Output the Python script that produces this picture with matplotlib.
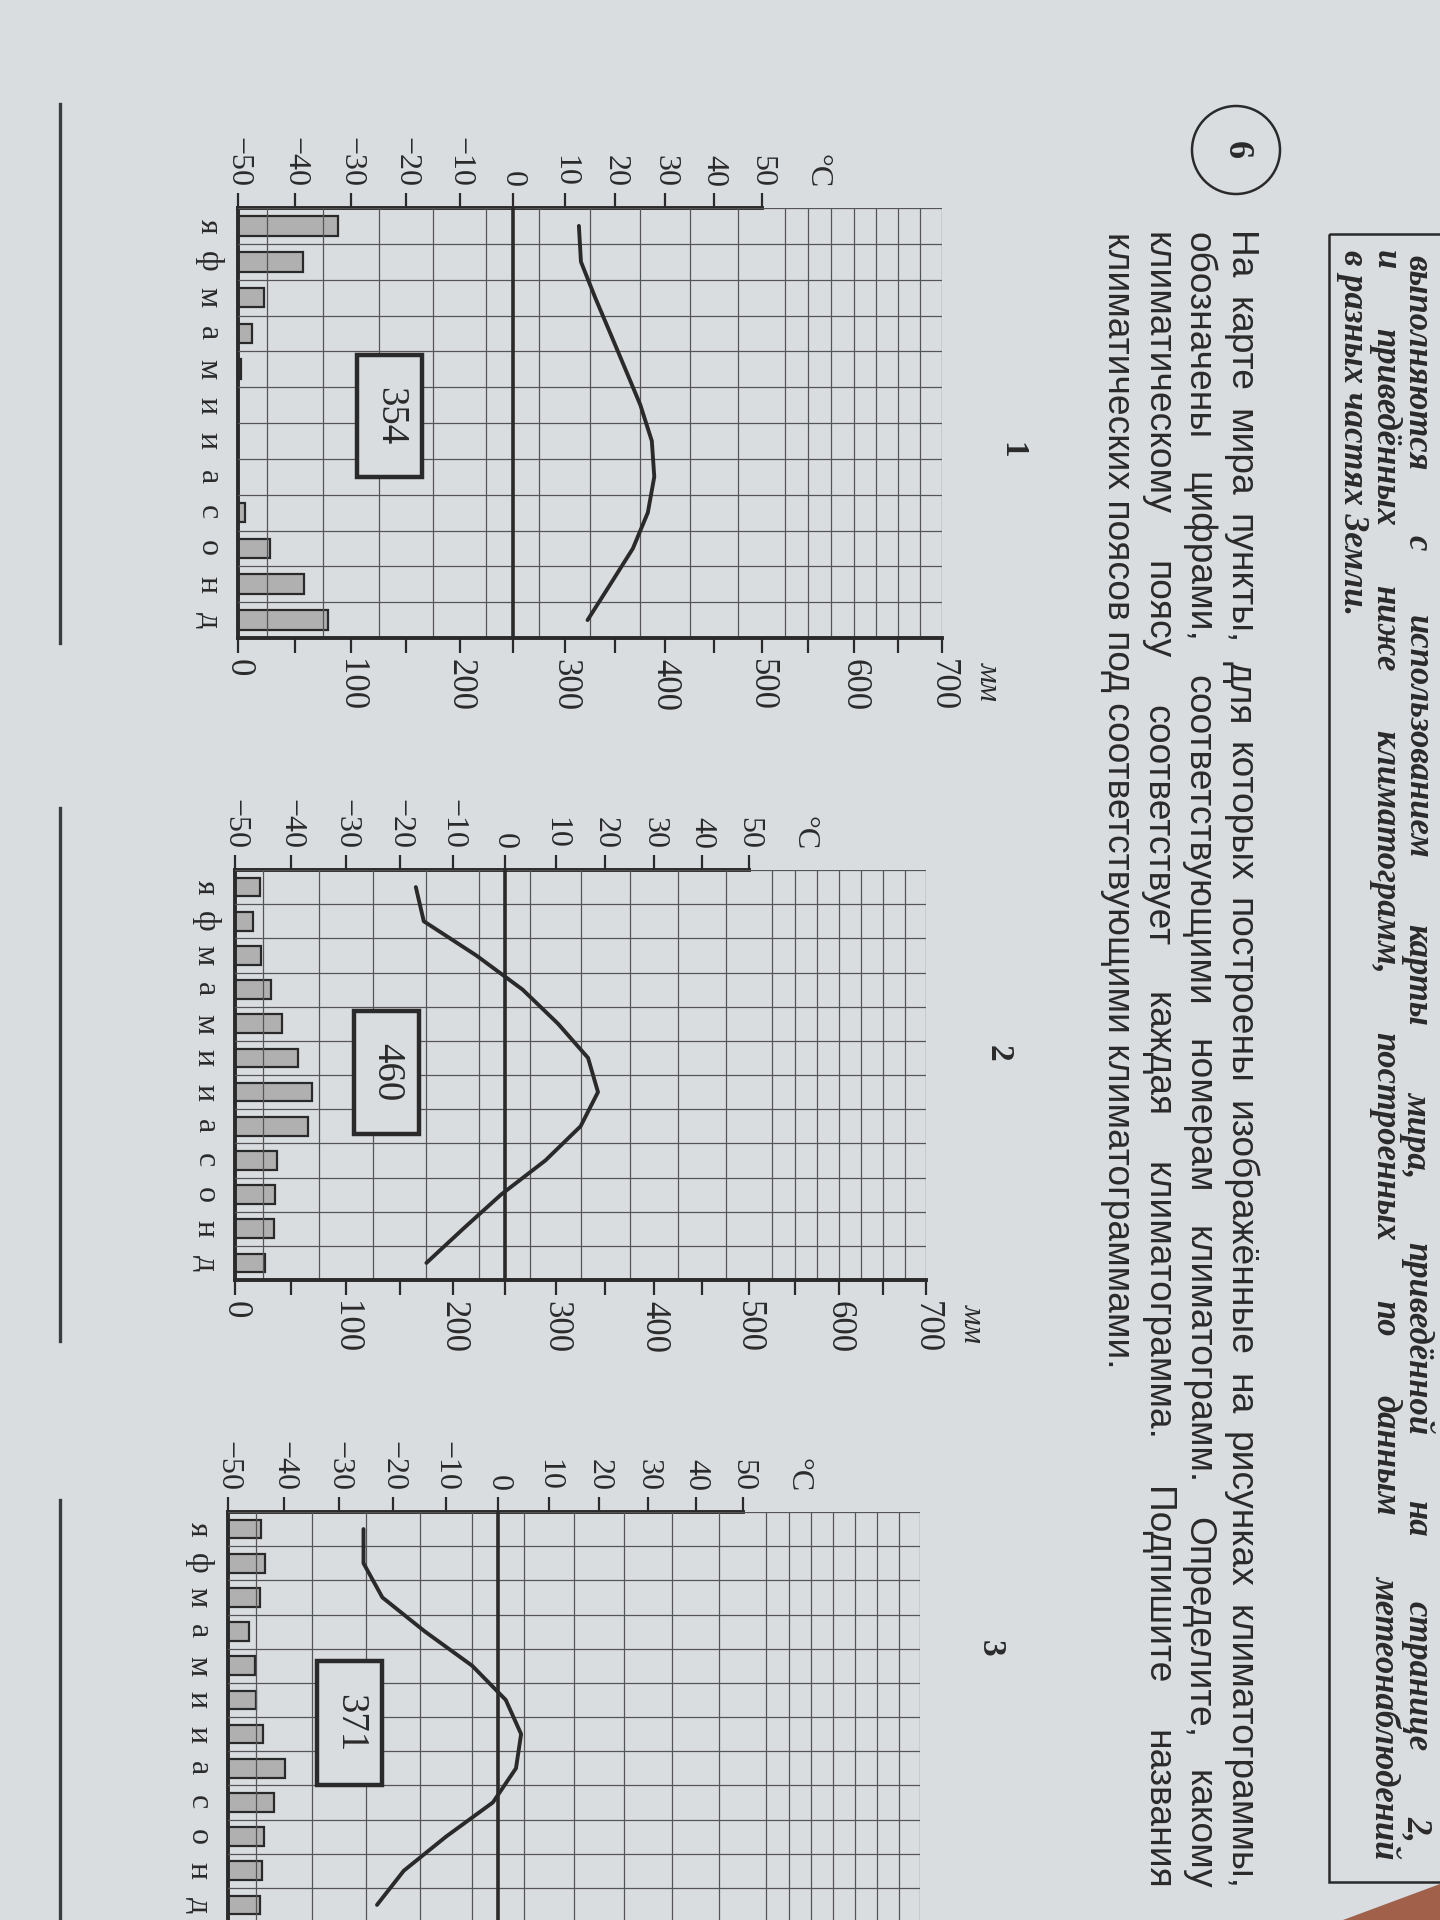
import numpy as np
import matplotlib
matplotlib.use("Agg")
import matplotlib.pyplot as plt
from matplotlib.patches import Rectangle, Circle, Polygon
from matplotlib.ticker import FixedLocator

# =============================================================================
# DONNEES DES TROIS CLIMATOGRAMMES (lues sur la photo)
# =============================================================================
mois = ["я", "ф", "м", "а", "м", "и", "и", "а", "с", "о", "н", "д"]

temp_1 = [12.8, 13.2, 16, 19, 22, 25, 27.3, 27.8, 26.5, 23.5, 19, 14.5]
precip_1 = [88, 57, 23, 12, 3, 0, 0, 0, 6, 28, 58, 79]
total_1 = "354"

temp_2 = [-17, -15.5, -5.5, 3.5, 10.5, 16.5, 18.5, 15, 8, -0.7, -8, -15]
precip_2 = [22, 16, 23, 32, 42, 56, 69, 65, 37, 36, 35, 27]
total_2 = "460"

temp_3 = [-25.5, -25.5, -22, -14, -5, 1.5, 4.5, 3.5, -1, -10, -18, -23]
precip_3 = [29, 33, 28, 19, 24, 25, 31, 51, 41, 32, 30, 28]
total_3 = "371"

graduations_temp = [-50, -40, -30, -20, -10, 0, 10, 20, 30, 40, 50]
graduations_precip = [0, 100, 200, 300, 400, 500, 600, 700]

titres = ["1", "2", "3"]

entete = [
    "выполняются с использованием карты мира, приведённой на странице 2,",
    "и приведённых ниже климатограмм, построенных по данным метеонаблюдений",
    "в разных частях Земли.",
]
consigne = [
    "На карте мира пункты, для которых построены изображённые на рисунках климатограммы,",
    "обозначены цифрами, соответствующими номерам климатограмм. Определите, какому",
    "климатическому поясу соответствует каждая климатограмма. Подпишите названия",
    "климатических поясов под соответствующими климатограммами.",
]

# =============================================================================
# MISE EN PAGE (pixels de l'image, page tournée de 90°)
# =============================================================================
W, H = 1440, 1920
PAPIER = "#dadde0"
ENCRE = "#2a2a2a"
GRILLE = "#555555"
BARRE = "#b0b0b0"
SERIF = ["Liberation Serif", "DejaVu Serif"]
SANS = ["Liberation Sans Narrow", "Liberation Sans", "DejaVu Sans"]

# (gauche, droite, haut, bas) de chaque grille
cadres = [(238, 942, 208, 638), (235, 926, 870, 1280), (228, 920, 1512, 1922)]
# cadre du total annuel : (T0, T1, mois0, mois1)
boites = [(-29, -17, 4.1, 7.5), (-28.5, -16.4, 4.13, 7.73), (-34, -22, 4.35, 8.0)]
pos_titres = [(1012, 450), (998, 1053), (990, 1648)]
traits_reponse = [(104, 643), (808, 1341), (1500, 1925)]

plt.rcParams["font.family"] = SERIF

# échelle légèrement non linéaire : la photo est prise en perspective
C = 0.0009


def avant(t):
    u = np.asarray(t, dtype=float) + 50
    return u - C * u * u


def arriere(y):
    y = np.asarray(y, dtype=float)
    return (1 - np.sqrt(np.clip(1 - 4 * C * y, 0, None))) / (2 * C) - 50


fig = plt.figure(figsize=(W / 100, H / 100), dpi=100)
fig.patch.set_facecolor(PAPIER)

page = fig.add_axes([0, 0, 1, 1])
page.set_xlim(0, W)
page.set_ylim(H, 0)
page.axis("off")
page.patch.set_alpha(0)


def climatogramme(cadre, temp, precip, total, boite):
    g, d, h, b = cadre
    ax = fig.add_axes([g / W, 1 - b / H, (d - g) / W, (b - h) / H])
    ax.patch.set_alpha(0)
    ax.set_xscale("function", functions=(avant, arriere))
    ax.set_xlim(-50, 90)
    ax.set_ylim(12, 0)

    # axe des précipitations (en bas)
    axp = ax.twiny()
    axp.set_xscale("function",
                   functions=(lambda p: avant(np.asarray(p) / 5 - 50),
                              lambda y: (arriere(y) + 50) * 5))
    axp.set_xlim(0, 700)
    axp.xaxis.set_ticks_position("bottom")
    axp.set_xticks(graduations_precip, labels=[str(p) for p in graduations_precip])
    axp.xaxis.set_minor_locator(FixedLocator(np.arange(50, 700, 100)))
    axp.tick_params(axis="x", which="both", direction="out", length=11, width=1.6,
                    pad=4, labelsize=25, labelrotation=270, colors=ENCRE)
    for s in ["top", "left", "right"]:
        axp.spines[s].set_visible(False)
    axp.spines["bottom"].set_linewidth(2.8)
    axp.spines["bottom"].set_color(ENCRE)
    axp.annotate("мм", xy=(700, 12), xytext=(46, -24), textcoords="offset pixels",
                 rotation=270, ha="center", va="top", fontsize=22, style="italic",
                 color=ENCRE, annotation_clip=False)

    # axe des températures (en haut)
    ax.xaxis.tick_top()
    ax.set_xticks(graduations_temp,
                  labels=[str(t).replace("-", "\u2212") for t in graduations_temp])
    ax.xaxis.set_minor_locator(FixedLocator(np.arange(-50, 91, 5)))
    ax.tick_params(axis="x", which="major", direction="out", length=11, width=1.6,
                   pad=4, labelsize=23, labelrotation=270, colors=ENCRE)
    ax.tick_params(axis="x", which="minor", length=0)
    ax.annotate("°C", xy=(62, 0), xytext=(0, 20), textcoords="offset pixels",
                rotation=270, ha="center", va="bottom", fontsize=23, color=ENCRE,
                annotation_clip=False)

    # mois
    centres = np.arange(12) + 0.5
    ax.set_yticks(centres, labels=mois)
    ax.yaxis.set_minor_locator(FixedLocator(np.arange(13)))
    ax.tick_params(axis="y", which="both", length=0, pad=11, labelsize=23,
                   labelrotation=270, colors=ENCRE)
    for lab in ax.get_yticklabels():
        lab.set_va("center")

    for s in ["bottom", "right"]:
        ax.spines[s].set_visible(False)
    ax.spines["top"].set_bounds(-50, 50)
    for s in ["top", "left"]:
        ax.spines[s].set_linewidth(2.8)
        ax.spines[s].set_color(ENCRE)

    ax.grid(True, which="minor", color=GRILLE, lw=0.9)
    ax.grid(False, which="major")
    ax.set_axisbelow(False)

    ax.barh(centres, np.asarray(precip) / 5, left=-50, height=0.55,
            color=BARRE, edgecolor=ENCRE, lw=1.6, zorder=1)
    ax.axvline(0, color=ENCRE, lw=2.6, zorder=2.6)
    ax.plot(temp, centres, color=ENCRE, lw=2.8, zorder=3,
            solid_capstyle="round", solid_joinstyle="round")

    t0, t1, m0, m1 = boite
    ax.add_patch(Rectangle((t0, m0), t1 - t0, m1 - m0, fc=PAPIER, ec=ENCRE,
                           lw=3.2, zorder=4))
    tc = float(arriere((avant(t0) + avant(t1)) / 2))
    ax.text(tc, (m0 + m1) / 2, total, rotation=270, ha="center", va="center",
            fontsize=28, color=ENCRE, zorder=5)
    return ax


climatogramme(cadres[0], temp_1, precip_1, total_1, boites[0])
climatogramme(cadres[1], temp_2, precip_2, total_2, boites[1])
climatogramme(cadres[2], temp_3, precip_3, total_3, boites[2])

for (x, y), t in zip(pos_titres, titres):
    page.text(x, y, t, rotation=270, ha="center", va="center", fontsize=24,
              fontweight="bold", color=ENCRE)

for y0, y1 in traits_reponse:
    page.plot([60, 60], [y0, y1], color="#3a3d40", lw=2.4)

# =============================================================================
# TEXTE DE LA PAGE
# =============================================================================
rendu = fig.canvas.get_renderer()


def ligne(texte, x, y0, y1=None, **style):
    if y1 is None:
        return page.text(x, y0, texte, rotation=270, ha="center", va="top", **style)
    mots = texte.split()
    arts = [page.text(x, y0, m, rotation=270, ha="center", va="top", **style)
            for m in mots]
    longueurs = [a.get_window_extent(rendu).height for a in arts]
    ecart = (y1 - y0 - sum(longueurs)) / (len(mots) - 1)
    y = y0
    for a, l in zip(arts, longueurs):
        a.set_y(y)
        y += l + ecart


def taille_pour(texte, longueur, **style):
    t = page.text(0, 0, texte, rotation=270, fontsize=20, **style)
    l = t.get_window_extent(rendu).height
    t.remove()
    return 20 * longueur / l


style_ent = dict(family=SERIF, style="italic", fontweight="bold", color=ENCRE)
style_ent["fontsize"] = taille_pour(entete[2], 365, **style_ent)
ligne(entete[0], 1417, 255, 1842, **style_ent)
ligne(entete[1], 1385, 250, 1858, **style_ent)
ligne(entete[2], 1352, 250, **style_ent)
page.add_patch(Rectangle((1329, 234), 200, 1648, fill=False, ec=ENCRE, lw=1.8))

style_txt = dict(family=SANS, color=ENCRE)
style_txt["fontsize"] = taille_pour(consigne[3], 1130, **style_txt)
for i, (x, txt) in enumerate(zip([1239, 1198, 1157, 1117], consigne)):
    ligne(txt, x, 232, 1890 if i < 3 else None, **style_txt)

page.add_patch(Circle((1236, 150), 44, fill=False, ec=ENCRE, lw=1.8))
page.text(1236, 150, "6", rotation=270, ha="center", va="center", fontsize=26,
          fontweight="bold", color=ENCRE)

page.add_patch(Polygon([[1343, 1920], [1440, 1884], [1440, 1920]],
                       closed=True, fc="#a0604a", ec="none"))

fig.savefig("out.png", dpi=100, facecolor=fig.get_facecolor())
